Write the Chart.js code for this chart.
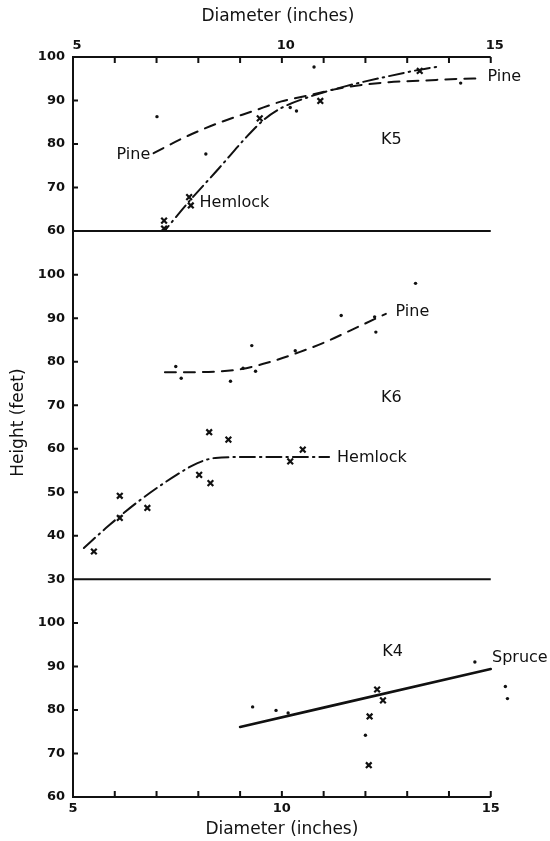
<!DOCTYPE html>
<html>
<head>
<meta charset="utf-8">
<script src="https://cdn.jsdelivr.net/npm/chart.js@4.4.0/dist/chart.umd.min.js"></script>
<style>
  html, body { margin: 0; padding: 0; background: #fff; }
  #wrap { width: 550px; height: 841px; }
</style>
</head>
<body>
<div id="wrap"><canvas id="c" width="550" height="841"></canvas></div>
<script>
// Height over diameter for three stands (K5, K6, K4).
// Diameter in inches, height in feet.

// ---- Stand K5 ----
const k5PineDiam   = [7.01, 8.18, 10.2, 10.35, 10.77, 14.28];
const k5PineHeight = [86.3, 77.7, 88.4, 87.6, 97.7, 94.0];
const k5HemDiam    = [7.18, 7.18, 7.78, 7.82, 9.47, 10.92, 13.3];
const k5HemHeight  = [62.4, 60.6, 67.8, 65.9, 85.9, 89.9, 96.8];
// fitted curves
const k5PineCurveDiam   = [6.93, 7.64, 8.5, 9.35, 9.99, 10.64, 11.49, 12.56, 13.42, 14.27, 14.75];
const k5PineCurveHeight = [77.9, 81.4, 84.9, 87.7, 89.8, 91.2, 93.0, 94.2, 94.6, 95.0, 95.1];
const k5HemCurveDiam    = [7.06, 7.75, 8.5, 9.14, 9.57, 9.99, 10.64, 11.49, 12.56, 13.31, 13.74];
const k5HemCurveHeight  = [58.5, 66.5, 74.5, 81.5, 85.6, 88.3, 90.8, 93.2, 95.6, 97.1, 97.8];

// ---- Stand K6 ----
const k6PineDiam   = [7.46, 7.59, 8.77, 9.07, 9.28, 9.37, 10.32, 11.42, 12.22, 12.25, 13.2];
const k6PineHeight = [78.9, 76.2, 75.5, 78.5, 83.7, 77.8, 82.5, 90.6, 90.3, 86.8, 98.0];
const k6HemDiam    = [5.5, 6.12, 6.12, 6.78, 8.02, 8.26, 8.29, 8.72, 10.2, 10.5];
const k6HemHeight  = [36.4, 49.2, 44.1, 46.4, 54.0, 63.8, 52.1, 62.1, 57.1, 59.8];
const k6PineCurveDiam   = [7.2, 7.75, 8.39, 9.03, 9.67, 10.42, 11.06, 11.71, 12.49];
const k6PineCurveHeight = [77.6, 77.6, 77.7, 78.3, 79.8, 82.2, 84.6, 87.5, 91.0];
const k6HemCurveDiam    = [5.26, 5.85, 6.62, 7.48, 7.98, 8.41, 9.14, 10.21, 11.13];
const k6HemCurveHeight  = [37.2, 42.3, 48.3, 54.0, 56.7, 57.9, 58.1, 58.1, 58.1];

// ---- Stand K4 ----
const k4SpruceDiam   = [9.3, 9.86, 10.15, 12.0, 14.62, 15.35, 15.4];
const k4SpruceHeight = [80.7, 79.9, 79.3, 74.2, 91.0, 85.4, 82.6];
const k4HemDiam      = [12.28, 12.1, 12.08, 12.42];
const k4HemHeight    = [84.7, 78.5, 67.3, 82.2];
const k4SpruceLineDiam   = [9.0, 15.0];
const k4SpruceLineHeight = [76.1, 89.4];

// ---- Axis ticks ----
const diamTicks  = [5, 10, 15];
const diamMinor  = [6, 7, 8, 9, 10, 11, 12, 13, 14, 15];
const k5Ticks = [60, 70, 80, 90, 100];
const k6Ticks = [30, 40, 50, 60, 70, 80, 90, 100];
const k4Ticks = [60, 70, 80, 90, 100];

// ---- In-plot labels: [text, diameter, height, align] ----
const k5Labels = [['Pine', 6.85, 77.6, 'right'], ['Hemlock', 8.03, 66.6, 'left'], ['K5', 12.62, 81.0, 'center'], ['Pine', 14.92, 95.4, 'left']];
const k6Labels = [['Pine', 12.72, 91.5, 'left'], ['K6', 12.62, 71.8, 'center'], ['Hemlock', 11.32, 57.8, 'left']];
const k4Labels = [['K4', 12.65, 93.4, 'center'], ['Spruce', 15.03, 92.0, 'left']];

const DIAM_TITLE = 'Diameter (inches)';
const HEIGHT_TITLE = 'Height (feet)';

const INK = '#111';
const FONT = '"DejaVu Sans", sans-serif';
// the frame runs from 5 to 15 in; the scale continues into the right margin
const DIAM_MIN = 5, DIAM_END = 15, DIAM_MAX = 16.27;

const pts = (xs, ys) => xs.map((x, i) => ({ x, y: ys[i] }));

function curve(xs, ys, axis, dash, width) {
  return {
    type: 'line', data: pts(xs, ys), yAxisID: axis,
    borderColor: INK, borderWidth: width, borderDash: dash, borderCapStyle: 'round',
    pointRadius: 0, tension: 0.4, cubicInterpolationMode: 'monotone', fill: false
  };
}
function dots(xs, ys, axis) {
  return {
    type: 'scatter', data: pts(xs, ys), yAxisID: axis,
    pointStyle: 'circle', pointRadius: 1.7, backgroundColor: INK, borderColor: INK, borderWidth: 0
  };
}
function crosses(xs, ys, axis) {
  return {
    type: 'scatter', data: pts(xs, ys), yAxisID: axis,
    pointStyle: 'crossRot', pointRadius: 4, borderColor: INK, borderWidth: 2.2
  };
}

const PINE_DASH = [11, 8];
const HEM_DASH = [15, 5, 1.5, 5];

const datasets = [
  curve(k5PineCurveDiam, k5PineCurveHeight, 'yK5', PINE_DASH, 2),
  curve(k5HemCurveDiam, k5HemCurveHeight, 'yK5', HEM_DASH, 2),
  dots(k5PineDiam, k5PineHeight, 'yK5'),
  crosses(k5HemDiam, k5HemHeight, 'yK5'),

  curve(k6PineCurveDiam, k6PineCurveHeight, 'yK6', PINE_DASH, 2),
  curve(k6HemCurveDiam, k6HemCurveHeight, 'yK6', HEM_DASH, 2),
  dots(k6PineDiam, k6PineHeight, 'yK6'),
  crosses(k6HemDiam, k6HemHeight, 'yK6'),

  curve(k4SpruceLineDiam, k4SpruceLineHeight, 'yK4', [], 2.6),
  dots(k4SpruceDiam, k4SpruceHeight, 'yK4'),
  crosses(k4HemDiam, k4HemHeight, 'yK4')
];

const tickFont = { family: FONT, size: 13, weight: 'bold' };

function diamAxis(position, height, labelOffset) {
  return {
    type: 'linear', position, min: DIAM_MIN, max: DIAM_MAX,
    ticks: {
      stepSize: 1, autoSkip: false, maxRotation: 0, color: INK, font: tickFont, padding: 4, labelOffset,
      callback: v => diamTicks.includes(v) ? String(v) : ''
    },
    grid: { drawOnChartArea: false, drawTicks: false },
    border: { display: false },
    afterFit: s => { s.height = height; }
  };
}

function heightAxis(min, max, labels, weight) {
  return {
    type: 'linear', position: 'left', stack: 'h', stackWeight: weight, min, max,
    ticks: {
      stepSize: 10, autoSkip: false, color: INK, font: tickFont, padding: 8,
      callback: v => labels.includes(v) ? String(v) : ''
    },
    grid: { drawOnChartArea: false, drawTicks: false },
    border: { display: true, color: INK, width: 2 },
    afterFit: s => { s.width = 73; }
  };
}

// frame lines, inward tick marks, panel dividers, in-plot labels and axis titles
const decor = {
  id: 'decor',
  afterDatasetsDraw(chart) {
    const { ctx, chartArea: a, scales } = chart;
    const x0 = scales.x.getPixelForValue(DIAM_MIN), x1 = scales.x.getPixelForValue(DIAM_END);
    ctx.save();
    ctx.strokeStyle = INK;
    ctx.lineWidth = 2;
    ctx.lineCap = 'butt';
    ctx.beginPath();
    // top and bottom frame, panel dividers
    const rows = [a.top, a.bottom, scales.yK5.getPixelForValue(60), scales.yK6.getPixelForValue(30)];
    for (const y of rows) { ctx.moveTo(x0 - 1, y); ctx.lineTo(x1, y); }
    for (const d of diamMinor) {
      const px = scales.x.getPixelForValue(d);
      ctx.moveTo(px, a.bottom); ctx.lineTo(px, a.bottom - 6);
      ctx.moveTo(px, a.top); ctx.lineTo(px, a.top + 6);
    }
    for (const [id, list] of [['yK5', k5Ticks], ['yK6', k6Ticks], ['yK4', k4Ticks]]) {
      const s = scales[id];
      for (const v of list) {
        const py = s.getPixelForValue(v);
        ctx.moveTo(s.right, py); ctx.lineTo(s.right + 5, py);
      }
    }
    ctx.stroke();

    ctx.fillStyle = INK;
    ctx.font = '16px ' + FONT;
    ctx.textBaseline = 'middle';
    for (const [id, list] of [['yK5', k5Labels], ['yK6', k6Labels], ['yK4', k4Labels]]) {
      for (const [text, d, h, align] of list) {
        ctx.textAlign = align;
        ctx.fillText(text, scales.x.getPixelForValue(d), scales[id].getPixelForValue(h));
      }
    }

    // axis titles: diameter above and below the frame, height along the left
    ctx.font = '17px ' + FONT;
    ctx.textAlign = 'center';
    const xc = (x0 + x1) / 2;
    ctx.fillText(DIAM_TITLE, xc - 4, 17);
    ctx.fillText(DIAM_TITLE, xc, 830);
    ctx.save();
    ctx.translate(19, scales.yK6.getPixelForValue(66));
    ctx.rotate(-Math.PI / 2);
    ctx.fillText(HEIGHT_TITLE, 0, 0);
    ctx.restore();
    ctx.restore();
  }
};

new Chart(document.getElementById('c'), {
  data: { datasets },
  options: {
    responsive: false, animation: false, devicePixelRatio: 1,
    layout: { padding: 0 },
    plugins: { legend: { display: false }, tooltip: { enabled: false } },
    scales: {
      x: diamAxis('bottom', 44, 0),
      x2: diamAxis('top', 57, 4),
      yK4: heightAxis(60, 110, k4Ticks, 50),
      yK6: heightAxis(30, 110, k6Ticks, 80),
      yK5: heightAxis(60, 100, k5Ticks, 40)
    }
  },
  plugins: [decor]
});
</script>
</body>
</html>
